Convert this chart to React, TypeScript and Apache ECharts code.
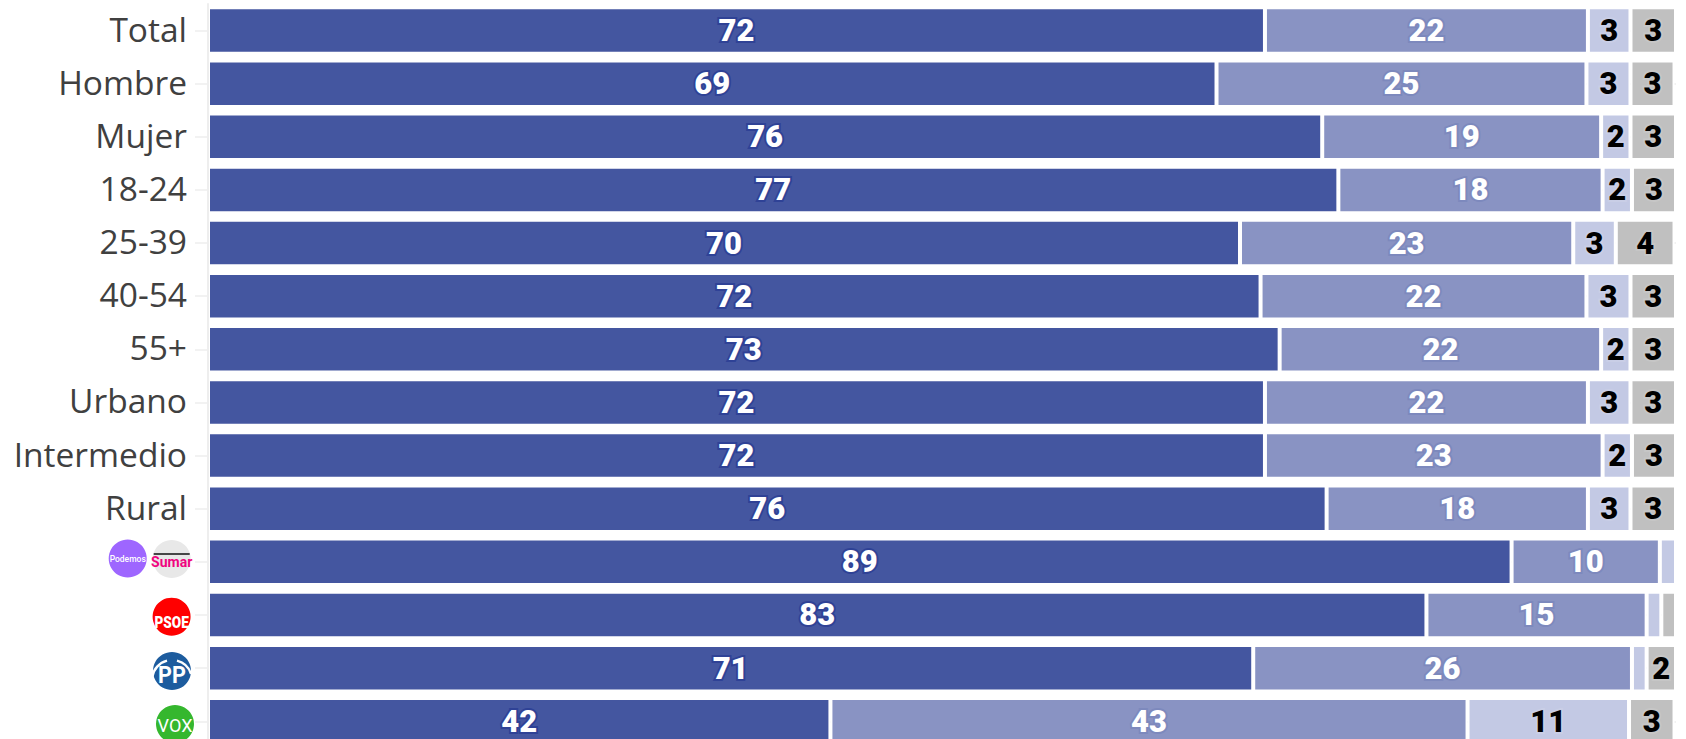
import React, { useEffect, useRef } from "react";
import * as echarts from "echarts";

const categories = ["Total", "Hombre", "Mujer", "18-24", "25-39", "40-54", "55+", "Urbano", "Intermedio", "Rural", "", " ", "  ", "   "];
const seriesA = [72.0, 68.7, 75.9, 77.0, 70.3, 71.7, 73.0, 72.0, 72.0, 76.2, 88.8, 83.0, 71.2, 42.4];
const seriesB = [22.0, 25.2, 19.0, 18.0, 22.7, 22.2, 21.9, 22.0, 23.0, 17.8, 10.1, 15.0, 25.8, 43.4];
const seriesC = [2.9, 3.0, 2.0, 2.0, 2.9, 3.0, 2.0, 2.9, 2.0, 2.9, 1.1, 1.0, 1.0, 11.0];
const seriesD = [3.1, 3.0, 3.1, 3.0, 4.0, 3.1, 3.1, 3.1, 3.0, 3.1, 0, 1.0, 2.0, 3.1];

const ROW = 53.13;
const TOP = 4;

function circleLogo(cx: number, cy: number, fill: string, extra: any[]) {
  return {
    type: "group",
    x: cx,
    y: cy,
    children: [{ type: "circle", shape: { cx: 0, cy: 0, r: 19 }, style: { fill } }, ...extra],
  };
}
function logoText(text: string, y: number, size: number, fill: string, family = "Roboto", weight: any = 700, scaleX = 1) {
  return {
    type: "text",
    x: 0,
    y,
    scaleX,
    style: { text, fill, font: `${weight} ${size}px "${family}"`, textAlign: "center", textVerticalAlign: "middle" },
  };
}

function makeSeries(name: string, data: number[], color: string, textColor: string, halo: string) {
  return {
    name,
    type: "bar",
    stack: "all",
    data,
    barWidth: 46.5,
    yAxisIndex: 0,
    itemStyle: { color, borderColor: "#ffffff", borderWidth: 2 },
    label: {
      show: true,
      position: "inside",
      formatter: (p: any) => (p.value >= 1.5 ? String(Math.round(p.value)) : ""),
      color: textColor,
      fontFamily: "Roboto",
      fontWeight: 900,
      fontSize: 31,
      textBorderColor: halo,
      textBorderWidth: 4,
    },
  };
}

export default function App() {
  const ref = useRef<HTMLDivElement>(null);
  useEffect(() => {
    const chart = echarts.init(ref.current!, null, { renderer: "svg" });
    chart.setOption({
      animation: false,
      backgroundColor: "#ffffff",
      grid: { left: 208, top: TOP, width: 1468, height: ROW * 14 },
      xAxis: { type: "value", min: 0, max: 100, show: false },
      yAxis: [
        {
          type: "category",
          inverse: true,
          z: 5,
          data: categories,
          axisLine: { show: true, lineStyle: { color: "#eeeeee", width: 2 } },
          axisTick: { show: true, alignWithLabel: true, length: 13, lineStyle: { color: "#eeeeee", width: 1.5 } },
          axisLabel: {
            margin: 21,
            formatter: (v: string) => (v.trim() ? `{a|${v}}` : ""),
            rich: {
              a: { color: "#404040", fontFamily: "Open Sans", fontSize: 33.5, fontWeight: 400, padding: [0, 0, 4, 0] },
            },
          },
          splitLine: { show: false },
        },
        {
          type: "category",
          inverse: true,
          position: "left",
          z: 0,
          data: categories,
          axisLine: { show: false },
          axisTick: { show: false },
          axisLabel: { show: false },
          splitLine: { show: true, alignWithLabel: true, lineStyle: { color: "#eeeeee", width: 1.5 } },
        },
      ],
      series: [
        makeSeries("A", seriesA, "rgba(58,77,155,0.95)", "#ffffff", "#2f4296"),
        makeSeries("B", seriesB, "rgba(133,144,193,0.97)", "#ffffff", "#7d89bd"),
        makeSeries("C", seriesC, "rgba(193,199,227,0.97)", "#000000", "#c9cee6"),
        makeSeries("D", seriesD, "rgba(190,190,190,0.97)", "#000000", "#c6c6c6"),
      ],
      graphic: [
        circleLogo(127.7, 558.5, "#9e66ff", [logoText("Podemos", 0, 8.5, "#ffffff", "Roboto", 500)]),
        circleLogo(171.7, 559, "#e8e8e8", [
          { type: "line", shape: { x1: -18, y1: -5, x2: 18, y2: -5 }, style: { stroke: "#111111", lineWidth: 1.6 } },
          logoText("Sumar", 2.5, 14, "#f0047f", "Roboto", 700),
        ]),
        circleLogo(171.6, 616.7, "#ff0000", [logoText("PSOE", 5.5, 16, "#ffffff", "Roboto", 900, 0.85)]),
        circleLogo(172, 671, "#1d5c9e", [
          { type: "arc", shape: { cx: 0, cy: 9, r: 20, startAngle: Math.PI * 1.05, endAngle: Math.PI * 1.42 }, style: { stroke: "#ffffff", lineWidth: 2.5, fill: "none" } },
          { type: "arc", shape: { cx: 0, cy: 9, r: 20, startAngle: Math.PI * 1.58, endAngle: Math.PI * 1.9 }, style: { stroke: "#ffffff", lineWidth: 2.5, fill: "none" } },
          logoText("PP", 4, 24, "#ffffff", "Roboto", 700, 0.9),
        ]),
        circleLogo(175, 724, "#35b72e", [logoText("VOX", 1, 18, "#ffffff", "Roboto", 400)]),
      ],
    });
    return () => chart.dispose();
  }, []);
  return (
    <div style={{ position: "fixed", left: 0, top: 0, width: 1686, height: 739, overflow: "hidden", background: "#fff" }}>
      <div ref={ref} style={{ width: 1686, height: 760 }} />
    </div>
  );
}
